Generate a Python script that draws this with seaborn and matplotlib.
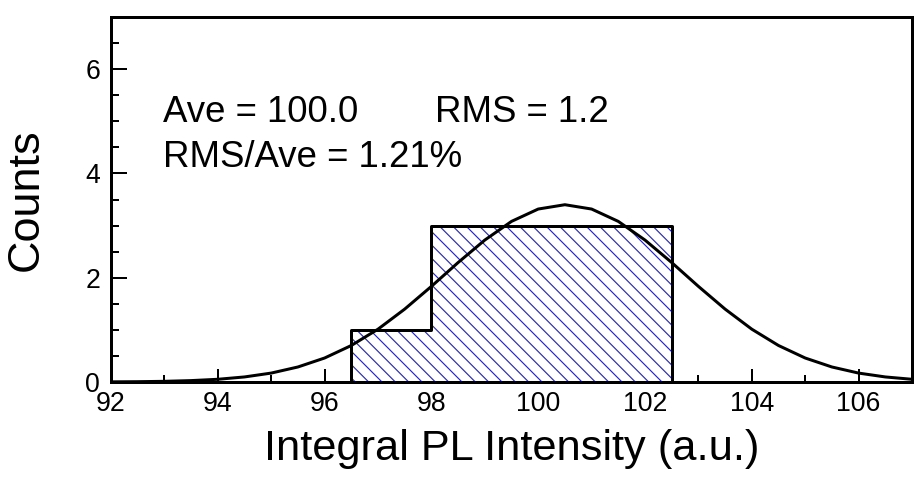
import matplotlib
matplotlib.use("Agg")
import matplotlib.pyplot as plt
import pandas as pd
import seaborn as sns
from matplotlib.ticker import MultipleLocator

# ---------------- data ----------------
bin_edges = [96.5, 98.0, 99.5, 101.0, 102.5]
bin_counts = [1, 3, 3, 3]

fit_x = [92.0, 92.5, 93.0, 93.5, 94.0, 94.5, 95.0, 95.5, 96.0, 96.5,
         97.0, 97.5, 98.0, 98.5, 99.0, 99.5, 100.0, 100.5, 101.0, 101.5,
         102.0, 102.5, 103.0, 103.5, 104.0, 104.5, 105.0, 105.5, 106.0,
         106.5, 107.0]
fit_y = [0.003, 0.006, 0.013, 0.027, 0.052, 0.097, 0.171, 0.288, 0.460, 0.700,
         1.013, 1.398, 1.834, 2.291, 2.722, 3.080, 3.317, 3.400, 3.317, 3.080,
         2.722, 2.291, 1.834, 1.398, 1.013, 0.700, 0.460, 0.288, 0.171,
         0.097, 0.052]

x_ticks = [92, 94, 96, 98, 100, 102, 104, 106]
y_ticks = [0, 2, 4, 6]
stats_line1a = "Ave = 100.0"
stats_line1b = "RMS = 1.2"
stats_line2 = "RMS/Ave = 1.21%"
x_label = "Integral PL Intensity (a.u.)"
y_label = "Counts"

# ---------------- style ----------------
sns.set_style("white")
plt.rcParams["font.family"] = ["Liberation Sans", "DejaVu Sans"]
plt.rcParams["text.color"] = "black"
plt.rcParams["axes.labelcolor"] = "black"
plt.rcParams["xtick.color"] = "black"
plt.rcParams["ytick.color"] = "black"
hatch_blue = "#2a2aaa"
plt.rcParams["hatch.linewidth"] = 0.7
plt.rcParams["hatch.color"] = hatch_blue

DPI = 120
fig = plt.figure(figsize=(922 / DPI, 484 / DPI), dpi=DPI)
ax = fig.add_axes([111 / 922, 1 - 382 / 484, 801 / 922, 365 / 484])

centers = [(a + b) / 2 for a, b in zip(bin_edges[:-1], bin_edges[1:])]
hist_df = pd.DataFrame({"value": centers, "count": bin_counts})

# hatched fill
sns.histplot(data=hist_df, x="value", weights="count", bins=bin_edges,
             element="step", fill=True, color=hatch_blue, facecolor="white",
             edgecolor=hatch_blue, linewidth=0, hatch="\\\\\\", ax=ax)
# black outline
sns.histplot(data=hist_df, x="value", weights="count", bins=bin_edges,
             element="step", fill=True, color="black", facecolor="none",
             edgecolor="black", linewidth=1.8, ax=ax)

fit_df = pd.DataFrame({"x": fit_x, "y": fit_y})
sns.lineplot(data=fit_df, x="x", y="y", color="black", linewidth=1.8, ax=ax)

ax.set_xlim(92, 107)
ax.set_ylim(0, 7)
ax.set_xticks(x_ticks)
ax.set_yticks(y_ticks)
ax.xaxis.set_minor_locator(MultipleLocator(1))
ax.yaxis.set_minor_locator(MultipleLocator(0.5))

ax.tick_params(axis="both", which="both", direction="in", colors="black",
               width=1.2, labelsize=16)
ax.tick_params(axis="x", which="major", length=8, pad=5.5)
ax.tick_params(axis="x", which="minor", length=4.2)
ax.tick_params(axis="y", which="major", length=9.5, pad=6.5)
ax.tick_params(axis="y", which="minor", length=4.8)
ax.tick_params(bottom=True, left=True, top=False, right=False, which="both")

for sp in ax.spines.values():
    sp.set_visible(True)
    sp.set_color("black")
    sp.set_linewidth(1.8)

ax.set_xlabel(x_label, fontsize=26)
ax.set_ylabel(y_label, fontsize=27)
ax.xaxis.set_label_coords(0.5, -0.13)
ax.yaxis.set_label_coords(-0.08, 0.5)

ax.text(0.065, 0.712, stats_line1a, transform=ax.transAxes, fontsize=22,
        va="baseline", ha="left")
ax.text(0.4045, 0.712, stats_line1b, transform=ax.transAxes, fontsize=22,
        va="baseline", ha="left")
ax.text(0.065, 0.589, stats_line2, transform=ax.transAxes, fontsize=22,
        va="baseline", ha="left")

fig.savefig("out.png", dpi=DPI)
